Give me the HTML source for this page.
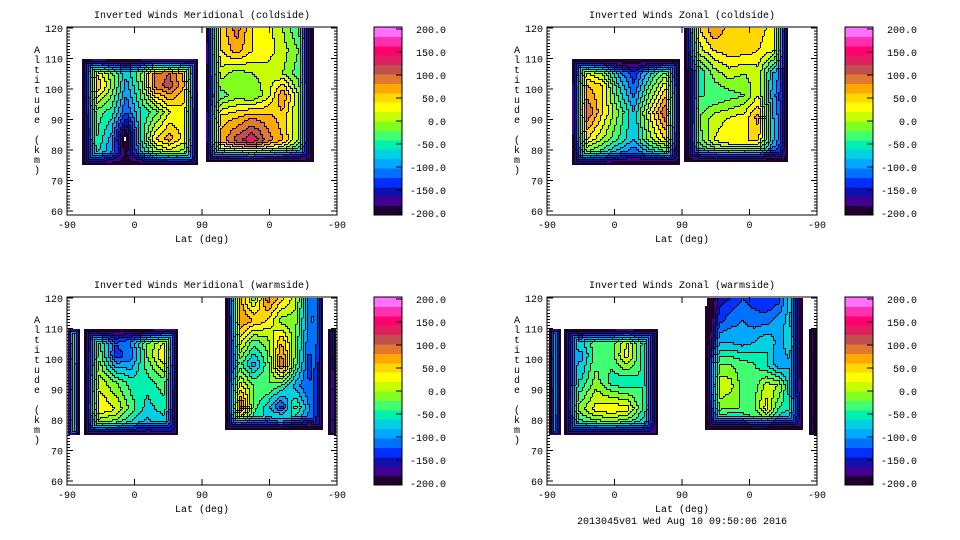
<!DOCTYPE html>
<html><head><meta charset="utf-8">
<style>
html,body{margin:0;padding:0;background:#fff;}
svg{display:block;font-family:"Liberation Mono",monospace;}
</style></head>
<body>
<svg id="fig" width="960" height="540" viewBox="0 0 960 540" xmlns="http://www.w3.org/2000/svg">
<rect width="960" height="540" fill="#fff"/>
</svg>
<script>
// ---------- data ----------
const colorLevels = [-200,-180,-160,-140,-120,-100,-80,-60,-40,-20,0,20,40,60,80,100,120,140,160,180,200];
const colorbarLabels = ["200.0","150.0","100.0","50.0","0.0","-50.0","-100.0","-150.0","-200.0"];
const colorbarLabelValues = [200,150,100,50,0,-50,-100,-150,-200];
const xTickLabels = ["-90","0","90","0","-90"];
const xTickPositions = [0,90,180,270,360];
const yTickValues = [60,70,80,90,100,110,120];
const panelTitles = ["Inverted Winds Meridional (coldside)","Inverted Winds Zonal (coldside)","Inverted Winds Meridional (warmside)","Inverted Winds Zonal (warmside)"];

// blocks: extent [p0,p1,altLow,altHigh]; values rows top(high alt)->bottom
const tlA_ext = [20,175,75,110];
const tlA_vals = [
[-50,10,-30,-60,-10,70,90,40,-10],
[-10,60,0,-90,-30,90,110,60,30],
[-30,-30,-50,-120,-60,-30,20,30,0],
[-50,-40,-90,-215,-60,40,70,30,-10],
[-80,-70,-110,-160,-110,-80,-60,-50,-70]];
const tlB_ext = [185,328,76,120];
const tlB_vals = [
[10,50,90,40,30,0,-40,-120],
[30,40,70,40,30,10,-20,-110],
[20,10,-10,0,10,0,-30,-110],
[10,-30,-10,-20,10,80,0,-100],
[30,50,60,80,70,50,0,-100],
[40,70,110,140,90,60,0,-110],
[-90,-80,-70,-70,-80,-90,-110,-130]];

const trA_ext = [33,177,75,110];
const trA_vals = [
[-40,-20,-60,-120,-150,-100,-60,-40],
[30,60,40,-60,-120,-40,30,40],
[40,100,40,-20,-80,20,100,60],
[20,40,0,-40,-80,-10,40,20],
[-100,-90,-110,-140,-150,-150,-140,-130]];
const trB_ext = [183,321,76,120];
const trB_vals = [
[-10,40,80,50,60,50,30,40],
[-30,10,40,50,50,40,20,30],
[-120,-60,-10,10,0,10,-80,-20],
[-160,-40,-40,-30,-20,20,-100,-40],
[-150,-20,10,20,30,70,-80,-30],
[-120,-30,20,40,40,40,-80,-30],
[-130,-110,-100,-90,-90,-100,-150,-110]];

const blL_ext = [1,16,75,110];
const blL_vals = [[-40,-40],[-60,-60]];
const blA_ext = [23,148,75,110];
const blA_vals = [
[-40,-50,-110,-80,-20,0,0],
[-10,-30,-130,-110,-20,40,0],
[20,10,-20,-50,-50,-30,-30],
[40,40,20,-30,-70,-50,-30],
[-90,-70,-80,-100,-100,-100,-110]];
const blB_ext = [211,341,77,120];
const blB_vals = [
[30,70,-10,90,50,10,-110,50],
[10,80,60,40,-10,-10,-110,70],
[-20,30,-30,-10,60,-20,-120,50],
[-10,-30,-90,-30,100,-30,-130,30],
[70,30,-20,-20,-40,-90,-120,-10],
[70,110,-30,-70,-130,-30,-100,-30],
[-70,-60,-70,-60,50,-110,-120,-70]];
const blR_ext = [348,359,75,110];
const blR_vals = [[-150,-150],[-160,-160]];

const brL_ext = [3,17,75,110];
const brL_vals = [[-90,-90],[-100,-100]];
const brA_ext = [23,148,75,110];
const brA_vals = [
[-20,-40,-20,-20,10,-40,-40],
[-20,-90,-30,-30,30,-50,-90],
[-20,-60,-10,-50,-60,-40,-100],
[-20,-10,30,40,30,-40,-60],
[-100,-90,-90,-90,-100,-100,-110]];
const brB_ext = [211,341,77,120];
const brB_vals = [
[-220,-150,-140,-120,-130,-140,-130,-60,-150],
[-190,-130,-110,-100,-110,-110,-90,-70,-130],
[-150,-80,-80,-90,-80,-60,-90,-60,-120],
[60,-20,-20,-30,-40,-60,-100,-80,-110],
[40,20,10,-30,-30,10,0,-80,-100],
[-60,-10,-20,-20,-20,30,-40,-60,-60],
[-120,-110,-100,-100,-60,-80,-100,-110,-90]];
const brR_ext = [349,358,75,110];
const brR_vals = [[-170,-170],[-170,-170]];

// ---------- rendering ----------
const bandColors = ["#200030","#400090","#1010b0","#0030ff","#0070ff","#00a8ff","#00d0e0","#00f0b0","#40ff70","#80ff20","#c8ff00","#ffff00","#ffd800","#ffa800","#e07830","#c05050","#e02060","#ff0070","#ff30b0","#ff70ff"];
const NS="http://www.w3.org/2000/svg";
const svg=document.getElementById('fig');
function el(tag,attrs,parent){const e=document.createElementNS(NS,tag);for(const k in attrs)e.setAttribute(k,attrs[k]);(parent||svg).appendChild(e);return e;}

const panels=[
 {ox:0,oy:0,title:panelTitles[0],name:'meridional-coldside',blocks:[[tlA_ext,tlA_vals],[tlB_ext,tlB_vals]]},
 {ox:480,oy:0,title:panelTitles[1],name:'zonal-coldside',blocks:[[trA_ext,trA_vals],[trB_ext,trB_vals]]},
 {ox:0,oy:270,title:panelTitles[2],name:'meridional-warmside',blocks:[[blL_ext,blL_vals],[blA_ext,blA_vals],[blB_ext,blB_vals],[blR_ext,blR_vals]]},
 {ox:480,oy:270,title:panelTitles[3],name:'zonal-warmside',blocks:[[brL_ext,brL_vals],[brA_ext,brA_vals],[brB_ext,brB_vals],[brR_ext,brR_vals]]}
];
const PX0=67,PX1=337,PY_TOP=28,PY_BOT=211;
const FALL=14;
function band(v){if(v<-205)return -1;let b=Math.floor((v-colorLevels[0])/20);return Math.max(0,Math.min(19,b));}

panels.forEach((P,pi)=>{
 const g=el('g',{});
 
 
 const xS=p=>P.ox+PX0+(p/360)*(PX1-PX0);
 const yS=a=>P.oy+PY_TOP+(120-a)/60*(PY_BOT-PY_TOP);
 const t=el('text',{x:P.ox+202,y:P.oy+18,'font-size':'10','text-anchor':'middle',fill:'#000'},g);
 t.textContent=P.title;
 
 
 const cg=el('g',{'shape-rendering':'crispEdges'},g);
 
 
 const lg=el('g',{'shape-rendering':'crispEdges',fill:'#000'},g);
 
 
 P.blocks.forEach(([ext,vals])=>{
  const [p0,p1,a0,a1]=ext;const R=vals.length,C=vals[0].length;
  const bx0=xS(p0),bx1=xS(p1),by0=yS(a1),by1=yS(a0);
  const x0=Math.round(bx0),x1=Math.round(bx1),y0=Math.round(by0),y1=Math.round(by1);
  const openTop=a1>=120;
  const st=2;
  const fall=Math.min(FALL,(bx1-bx0)/2.2);
  const val=(px,py)=>{
   const u=Math.max(0,Math.min(C-1,(px-bx0)/(bx1-bx0)*(C-1)));
   const v=Math.max(0,Math.min(R-1,(py-by0)/(by1-by0)*(R-1)));
   const i=Math.min(C-2,Math.floor(u)),j=Math.min(R-2,Math.floor(v));const fu=u-i,fv=v-j;
   let w=vals[j][i]*(1-fu)*(1-fv)+vals[j][i+1]*fu*(1-fv)+vals[j+1][i]*(1-fu)*fv+vals[j+1][i+1]*fu*fv;
   let d=Math.min(px-bx0,bx1-px,by1-py);
   if(!openTop)d=Math.min(d,py-by0);
   const f=Math.max(0,Math.min(1,d/fall));
   if(w<-205)return w;
   return -200+(w+200)*f;
  };
  let prevRow=null;
  for(let y=y0;y<y1;y+=st){
   const row=[];
   for(let x=x0;x<x1;x+=st)row.push(band(val(x+1,y+1)));
   let k=0;
   while(k<row.length){
    let m=k;while(m+1<row.length&&row[m+1]===row[k])m++;
    if(row[k]>=0){
     const r=el('rect',{x:x0+k*st,y:y,width:(m-k+1)*st,height:st,fill:bandColors[row[k]]},cg);
     
     
    }
    if(k>0&&row[k]>=0&&row[k-1]>=0){el('rect',{x:x0+k*st,y:y,width:1,height:st},lg);}
    k=m+1;
   }
   if(prevRow){for(let q=0;q<row.length;q++){if(row[q]>=0&&prevRow[q]>=0&&row[q]!==prevRow[q])el('rect',{x:x0+q*st,y:y,width:st,height:1},lg);}}
   prevRow=row;
  }
 });
 const bx=el('rect',{x:P.ox+PX0,y:P.oy+27,width:PX1-PX0,height:188,fill:'none',stroke:'#000','stroke-width':1,'shape-rendering':'crispEdges'},g);
 
 
 const ax=el('g',{stroke:'#000','stroke-width':1,'shape-rendering':'crispEdges'},g);
 
 
 for(let a=60;a<=120;a+=1){const y=yS(a);const L=(a%10===0)?6:3;
  el('line',{x1:P.ox+PX0,x2:P.ox+PX0+L,y1:y,y2:y},ax);el('line',{x1:P.ox+PX1,x2:P.ox+PX1-L,y1:y,y2:y},ax);}
 xTickPositions.forEach(p=>{const x=xS(p);el('line',{x1:x,x2:x,y1:P.oy+215,y2:P.oy+209},ax);el('line',{x1:x,x2:x,y1:P.oy+27,y2:P.oy+33},ax);});
 yTickValues.forEach(a=>{const tt=el('text',{x:P.ox+63,y:yS(a)+4,'font-size':'10','text-anchor':'end'},g);tt.textContent=String(a);
  
  });
 xTickLabels.forEach((s,i)=>{const tt=el('text',{x:xS(xTickPositions[i]),y:P.oy+228,'font-size':'10','text-anchor':'middle'},g);tt.textContent=s;
  
  });
 const xt=el('text',{x:P.ox+202,y:P.oy+242,'font-size':'10','text-anchor':'middle'},g);xt.textContent='Lat (deg)';
 
 
 const yt=el('g',{},g);
 
 
 'Altitude (km)'.split('').forEach((c,i)=>{const tt=el('text',{x:P.ox+37,y:P.oy+53+i*10,'font-size':'10','text-anchor':'middle'},yt);tt.textContent=c;});
 const cb=el('g',{'shape-rendering':'crispEdges'},g);
 
 
 const cx=P.ox+(pi%2?365:374),cy0=P.oy+27,ch=188;
 bandColors.forEach((c,i)=>{el('rect',{x:cx,y:cy0+ch-(i+1)*ch/20,width:28,height:ch/20+0.5,fill:c},cb);});
 el('rect',{x:cx,y:cy0,width:28,height:ch,fill:'none',stroke:'#000'},cb);
 colorbarLabelValues.forEach((v,i)=>{const y=cy0+2+(200-v)/400*(ch-4);
  el('line',{x1:cx+28,x2:cx+22,y1:y,y2:y,stroke:'#000'},cb);
  const tt=el('text',{x:cx+72,y:y+4,'font-size':'10','text-anchor':'end'},cb);tt.textContent=colorbarLabels[i];
  
  });
});
const ft=el('text',{x:682,y:524,'font-size':'10','text-anchor':'middle'});
ft.textContent='2013045v01 Wed Aug 10 09:50:06 2016';


</script>
</body></html>
